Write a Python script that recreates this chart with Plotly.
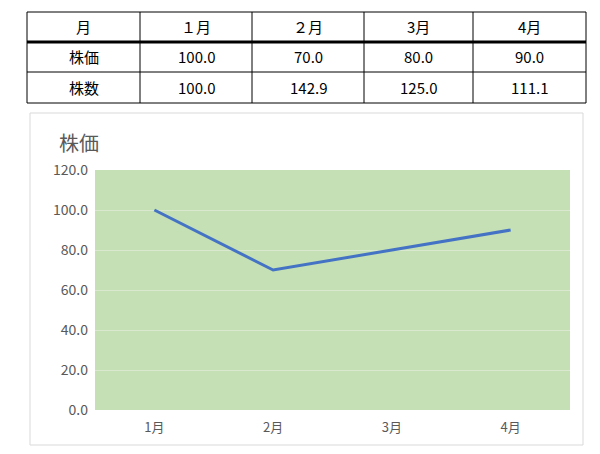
import plotly.graph_objects as go

months = ["1月", "2月", "3月", "4月"]
price = [100.0, 70.0, 80.0, 90.0]
shares = [100.0, 142.9, 125.0, 111.1]
table_header = ["月", "１月", "２月", "3月", "4月"]
row_labels = ["株価", "株数"]

OFF = 8  # page body margin
W, H = 600 - OFF, 454 - OFF
PL, PR, PT, PB = 95, 570, 170, 410  # plot area in screen pixels

def px(x):
    return (x - PL) / (PR - PL)

def py(y):
    return (PB - y) / (PB - PT)

fig = go.Figure()
fig.add_trace(go.Scatter(x=months, y=price, mode="lines",
                         line=dict(color="#4472c4", width=3), showlegend=False))

shapes = []
ann = []
# chart panel border
shapes.append(dict(type="rect", xref="paper", yref="paper", x0=px(30), x1=px(583),
                   y0=py(445), y1=py(113), line=dict(color="#d9d9d9", width=1), layer="below"))

# table
col_x = [27, 140, 252, 364, 473, 586]
row_y = [12, 42, 72, 103]
for x in col_x:
    shapes.append(dict(type="line", xref="paper", yref="paper", x0=px(x), x1=px(x),
                       y0=py(row_y[0]), y1=py(row_y[-1]), line=dict(color="black", width=1)))
for i, y in enumerate(row_y):
    shapes.append(dict(type="line", xref="paper", yref="paper", x0=px(col_x[0]), x1=px(col_x[-1]),
                       y0=py(y), y1=py(y), line=dict(color="black", width=3 if i == 1 else 1)))

rows = [table_header,
        [row_labels[0]] + [f"{v:.1f}" for v in price],
        [row_labels[1]] + [f"{v:.1f}" for v in shares]]
for r, row in enumerate(rows):
    yc = (row_y[r] + row_y[r + 1]) / 2
    for c, txt in enumerate(row):
        xc = (col_x[c] + col_x[c + 1]) / 2
        ann.append(dict(text=txt, xref="paper", yref="paper", x=px(xc), y=py(yc),
                        xanchor="center", yanchor="middle",
                        showarrow=False, font=dict(size=15, color="black")))

ann.append(dict(text="株価", xref="paper", yref="paper", x=px(57), y=py(142),
                xanchor="left", yanchor="middle",
                showarrow=False, font=dict(size=20, color="#595959")))

fig.update_layout(
    width=W, height=H,
    margin=dict(l=PL - OFF, r=600 - PR, t=PT - OFF, b=454 - PB, pad=0),
    paper_bgcolor="white", plot_bgcolor="#c5e0b4",
    font=dict(family="Noto Sans CJK JP", color="#595959"),
    shapes=shapes, annotations=ann,
    xaxis=dict(showgrid=False, tickfont=dict(size=13), ticks="", showline=False,
               range=[-0.5, 3.5], ticklabelstandoff=8),
    yaxis=dict(range=[0, 120], dtick=20, tickformat=".1f", gridcolor="#d9e8cf",
               zeroline=False, tickfont=dict(size=14), ticklabelstandoff=6),
)
fig.write_html("out.html")
